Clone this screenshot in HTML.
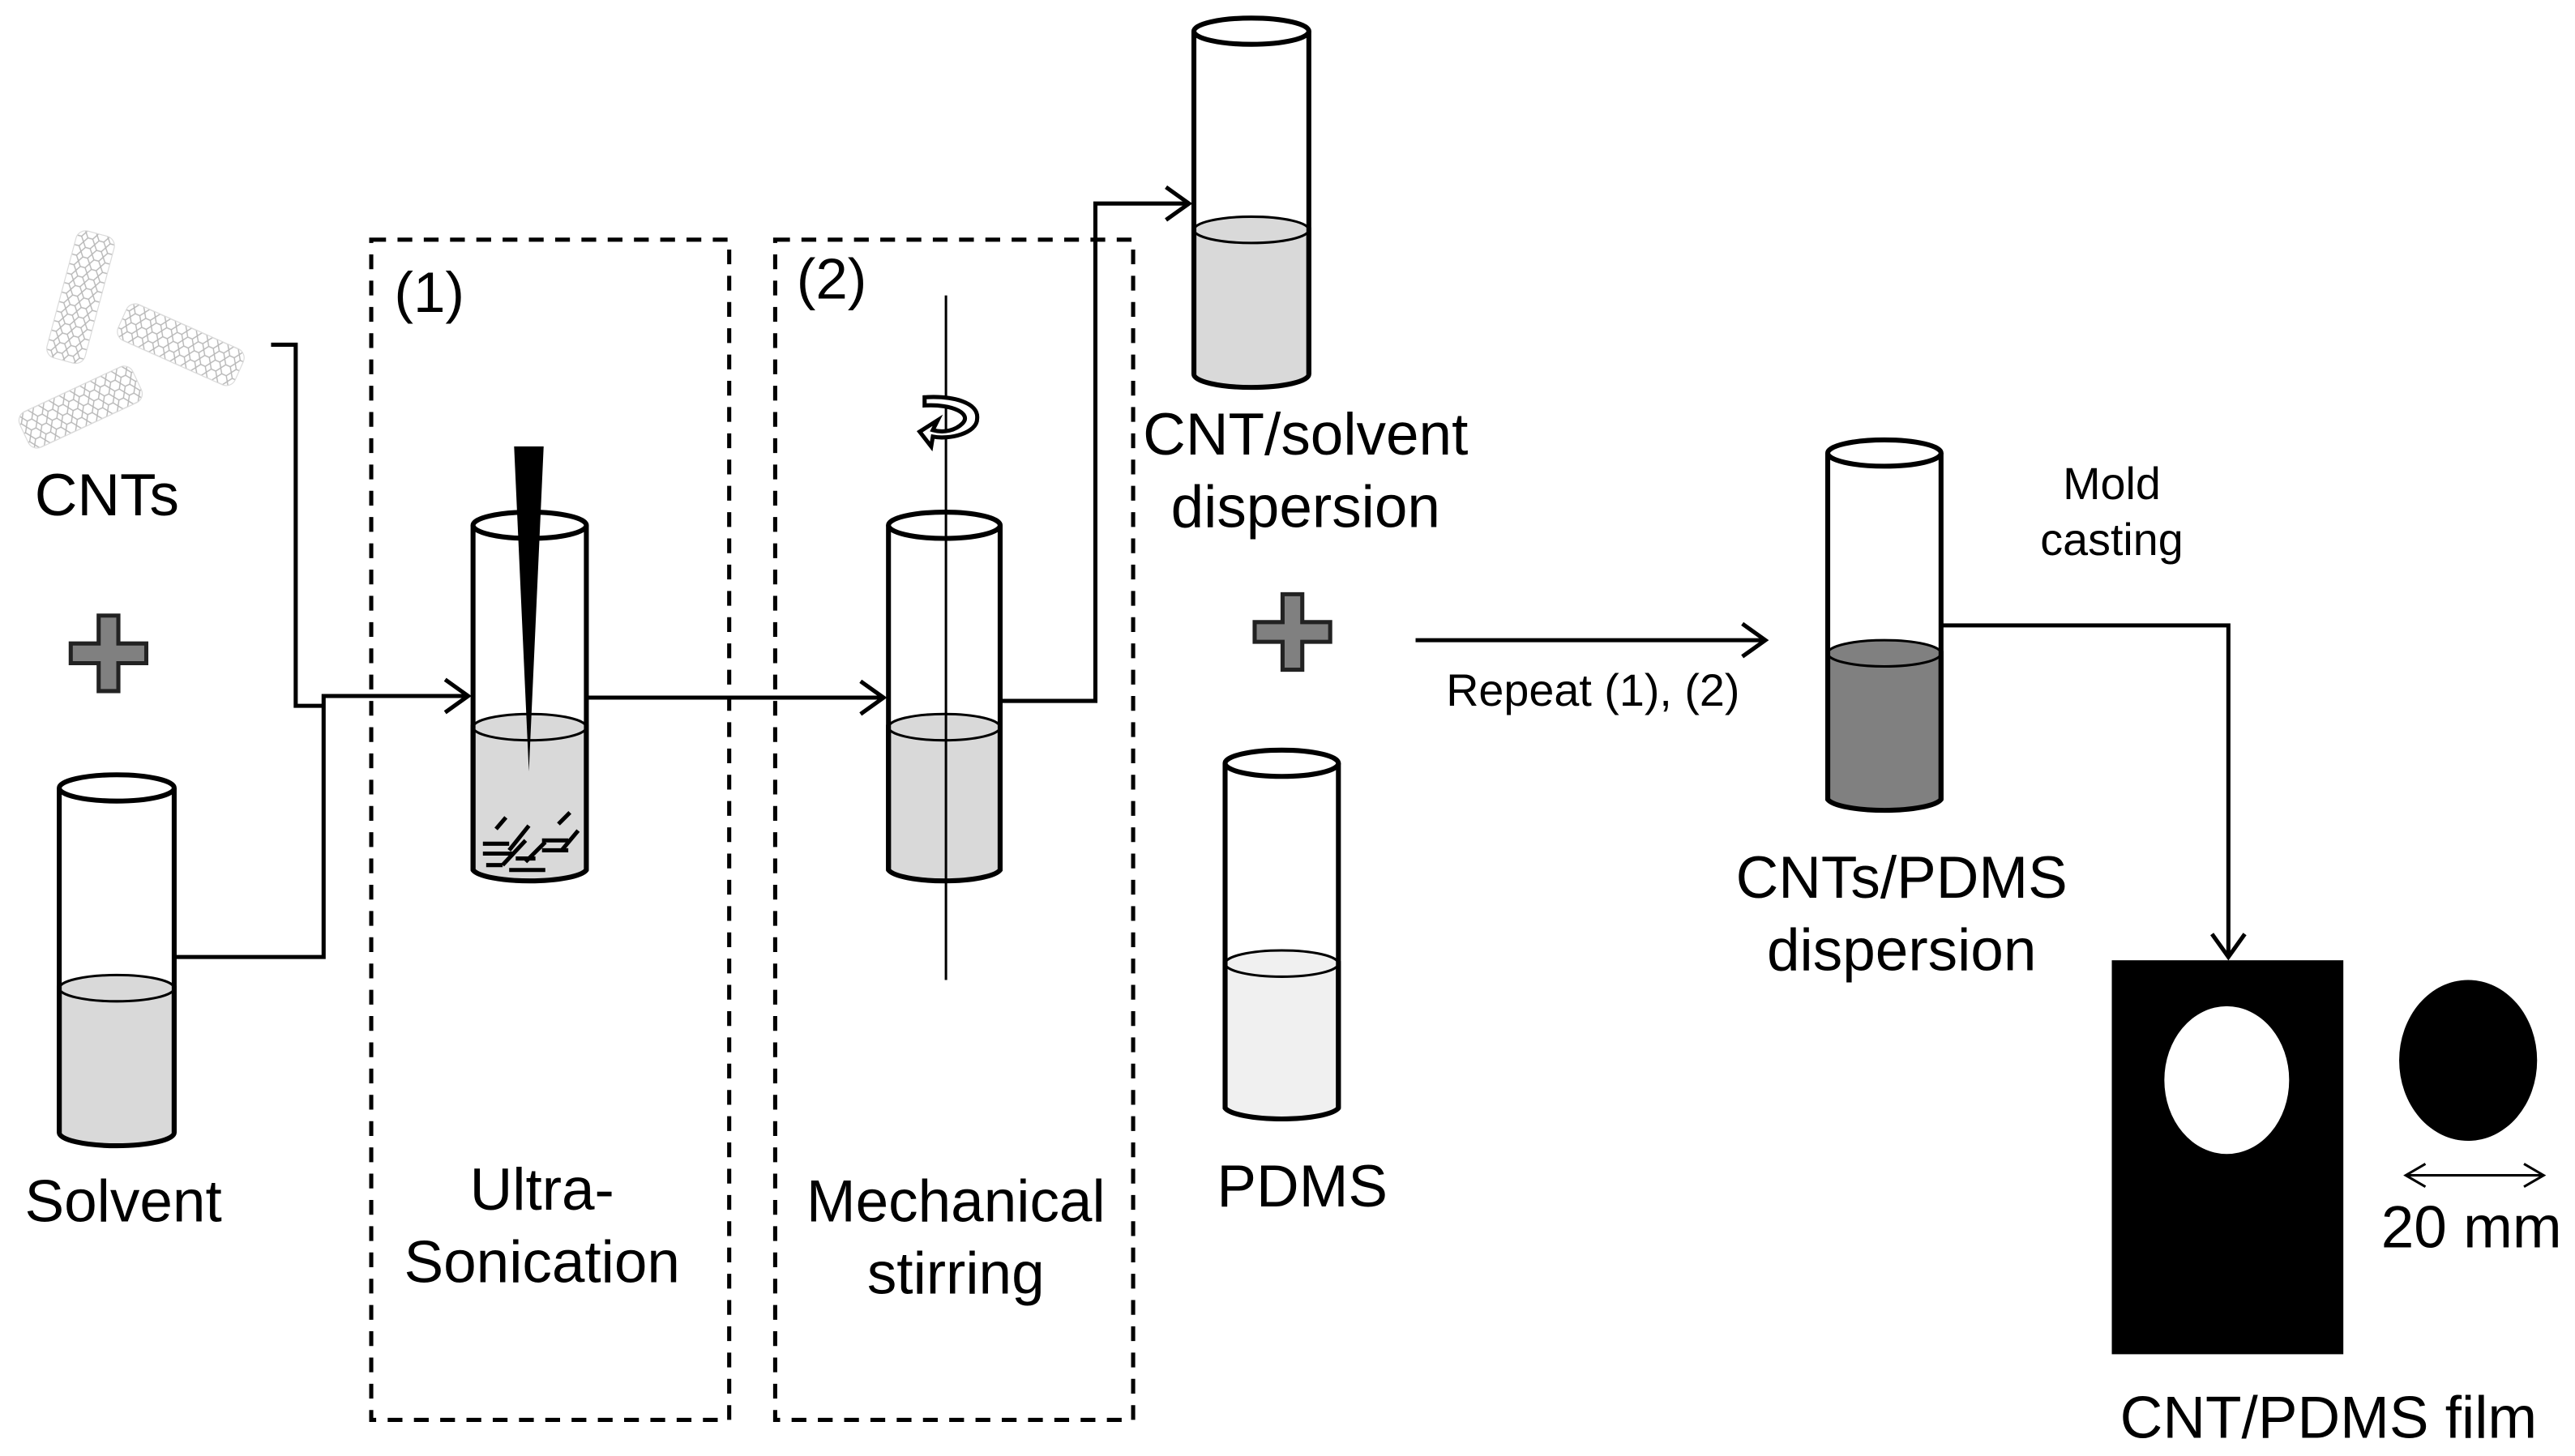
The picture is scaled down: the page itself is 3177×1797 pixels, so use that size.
<!DOCTYPE html>
<html><head><meta charset="utf-8"><style>
html,body{margin:0;padding:0;background:#fff;}
svg{display:block;}
text{font-family:"Liberation Sans",Arial,sans-serif;fill:#000;}
</style></head><body>
<svg width="3177" height="1797" viewBox="0 0 1568 887" xmlns="http://www.w3.org/2000/svg">
<defs>
<pattern id="hex" width="7" height="6" patternUnits="userSpaceOnUse">
<path d="M0 3 L2 0 L5 0 L7 3 L5 6 L2 6 Z" fill="none" stroke="#999" stroke-width="0.7"/>
</pattern>
</defs>
<rect width="1568" height="887" fill="#fff"/>

<!-- nanotubes -->
<g opacity="0.7">
<rect x="-12" y="-40" width="24" height="80" rx="6" fill="url(#hex)" stroke="#ccc" stroke-width="0.6" transform="translate(49,181) rotate(15)"/>
<rect x="-39" y="-12" width="78" height="24" rx="6" fill="url(#hex)" stroke="#ccc" stroke-width="0.6" transform="translate(110,210) rotate(24)"/>
<rect x="-38" y="-12" width="76" height="24" rx="6" fill="url(#hex)" stroke="#ccc" stroke-width="0.6" transform="translate(49,248) rotate(-25)"/>
</g>

<!-- plus signs -->
<path d="M60 375 h12 v17 h17 v12 h-17 v17 h-12 v-17 h-17 v-12 h17 z" fill="#808080" stroke="#222" stroke-width="2.5"/>
<path d="M781 362 h12 v17 h17 v12 h-17 v17 h-12 v-17 h-17 v-12 h17 z" fill="#808080" stroke="#222" stroke-width="2.5"/>

<!-- dashed boxes -->
<rect x="226" y="146" width="218" height="719" fill="none" stroke="#000" stroke-width="2.5" stroke-dasharray="9,7"/>
<rect x="472" y="146" width="218" height="719" fill="none" stroke="#000" stroke-width="2.5" stroke-dasharray="9,7"/>

<g fill="none" stroke="#000" stroke-width="2.5">
<polyline points="165,210 180,210 180,430 197,430"/>
<polyline points="106,583 197,583 197,424 285,424"/>
<polyline points="271,414 285,424 271,434"/>
<polyline points="357,425 538,425"/>
<polyline points="524,415 538,425 524,435"/>
<polyline points="609,427 667,427 667,124 724,124"/>
<polyline points="710,114 724,124 710,134"/>
<polyline points="862,390 1075,390"/>
<polyline points="1061,380 1075,390 1061,400"/>
<polyline points="1182,381 1357,381 1357,583"/>
<polyline points="1347,569 1357,583 1367,569"/>
<line x1="1465" y1="716" x2="1549" y2="716" stroke-width="1.5"/>
<polyline points="1477,709 1465,716 1477,723" stroke-width="1.5"/>
<polyline points="1537,709 1549,716 1537,723" stroke-width="1.5"/>
</g>

<!-- Solvent tube -->
<g stroke="#000" stroke-width="3">
<path d="M36 602 L36 690 A35 8 0 0 0 106 690 L106 602 Z" fill="#d9d9d9"/>
<ellipse cx="71" cy="602" rx="35" ry="8" fill="#d9d9d9" stroke-width="1.5"/>
<line x1="36" y1="480" x2="36" y2="690"/><line x1="106" y1="480" x2="106" y2="690"/>
<ellipse cx="71" cy="480" rx="35" ry="8" fill="#fff"/>
</g>
<!-- Sonication tube -->
<g stroke="#000" stroke-width="3">
<path d="M288 443 L288 530 A35 8 0 0 0 357 530 L357 443 Z" fill="#d9d9d9"/>
<ellipse cx="322.5" cy="443" rx="34.5" ry="8" fill="#d9d9d9" stroke-width="1.5"/>
<line x1="288" y1="320" x2="288" y2="530"/><line x1="357" y1="320" x2="357" y2="530"/>
<ellipse cx="322.5" cy="320" rx="34.5" ry="8" fill="#fff"/>
</g>
<g stroke="#000" stroke-width="2.5">
<line x1="294" y1="520" x2="312" y2="520"/><line x1="294" y1="514" x2="310" y2="514"/>
<line x1="302" y1="505" x2="308" y2="498"/><line x1="310" y1="518" x2="322" y2="503"/>
<line x1="306" y1="527" x2="320" y2="512"/><line x1="330" y1="512" x2="346" y2="512"/>
<line x1="330" y1="518" x2="346" y2="518"/><line x1="340" y1="502" x2="347" y2="495"/>
<line x1="320" y1="525" x2="332" y2="513"/><line x1="310" y1="530" x2="332" y2="530"/>
<line x1="342" y1="518" x2="352" y2="506"/><line x1="314" y1="523" x2="326" y2="523"/>
<line x1="296" y1="527" x2="306" y2="527"/>
</g>
<polygon points="313,272 331,272 322,470" fill="#000"/>
<!-- Stirring tube -->
<g stroke="#000" stroke-width="3">
<path d="M541 443 L541 530 A34.5 8 0 0 0 609 530 L609 443 Z" fill="#d9d9d9"/>
<ellipse cx="575" cy="443" rx="34" ry="8" fill="#d9d9d9" stroke-width="1.5"/>
<line x1="541" y1="320" x2="541" y2="530"/><line x1="609" y1="320" x2="609" y2="530"/>
<ellipse cx="575" cy="320" rx="34" ry="8" fill="#fff"/>
</g>
<line x1="576" y1="180" x2="576" y2="597" stroke="#000" stroke-width="1.5"/>
<path d="M563 242 L563 247 C580 246 592 252 586 258 C582 262 575 264 568 262 L571 256 L560 263 L567 272 L568 266 C578 268 595 264 595 255 C596 245 580 241 563 242 Z" fill="#fff" stroke="#000" stroke-width="2.5"/>
<!-- CNT/solvent tube -->
<g stroke="#000" stroke-width="3">
<path d="M727 140 L727 228 A35 8 0 0 0 797 228 L797 140 Z" fill="#d9d9d9"/>
<ellipse cx="762" cy="140" rx="35" ry="8" fill="#d9d9d9" stroke-width="1.5"/>
<line x1="727" y1="19" x2="727" y2="228"/><line x1="797" y1="19" x2="797" y2="228"/>
<ellipse cx="762" cy="19" rx="35" ry="8" fill="#fff"/>
</g>
<!-- PDMS tube -->
<g stroke="#000" stroke-width="3">
<path d="M746 587 L746 675 A35 8 0 0 0 815 675 L815 587 Z" fill="#f0f0f0"/>
<ellipse cx="780.5" cy="587" rx="34.5" ry="8" fill="#f0f0f0" stroke-width="1.5"/>
<line x1="746" y1="465" x2="746" y2="675"/><line x1="815" y1="465" x2="815" y2="675"/>
<ellipse cx="780.5" cy="465" rx="34.5" ry="8" fill="#fff"/>
</g>
<!-- CNTs/PDMS tube -->
<g stroke="#000" stroke-width="3">
<path d="M1113 398 L1113 487 A35 8 0 0 0 1182 487 L1182 398 Z" fill="#808080"/>
<ellipse cx="1147.5" cy="398" rx="34.5" ry="8" fill="#808080" stroke-width="1.5"/>
<line x1="1113" y1="276" x2="1113" y2="487"/><line x1="1182" y1="276" x2="1182" y2="487"/>
<ellipse cx="1147.5" cy="276" rx="34.5" ry="8" fill="#fff"/>
</g>

<!-- film -->
<rect x="1286" y="585" width="141" height="240" fill="#000"/>
<ellipse cx="1356" cy="658" rx="38" ry="45" fill="#fff"/>
<ellipse cx="1503" cy="646" rx="42" ry="49" fill="#000"/>

<!-- texts -->
<g font-size="36" text-anchor="middle">
<text x="65" y="314">CNTs</text>
<text x="75" y="744">Solvent</text>
<text x="330" y="737">Ultra-</text>
<text x="330" y="781">Sonication</text>
<text x="582" y="744">Mechanical</text>
<text x="582" y="788">stirring</text>
<text x="795" y="277">CNT/solvent</text>
<text x="795" y="321">dispersion</text>
<text x="793" y="735">PDMS</text>
<text x="1158" y="547">CNTs/PDMS</text>
<text x="1158" y="591">dispersion</text>
<text x="1418" y="876">CNT/PDMS film</text>
<text x="1505" y="760">20 mm</text>
</g>
<g font-size="35">
<text x="240" y="190">(1)</text>
<text x="485" y="182">(2)</text>
</g>
<g font-size="27.5" text-anchor="middle">
<text x="970" y="430">Repeat (1), (2)</text>
<text x="1286" y="304">Mold</text>
<text x="1286" y="338">casting</text>
</g>
</svg>
</body></html>
